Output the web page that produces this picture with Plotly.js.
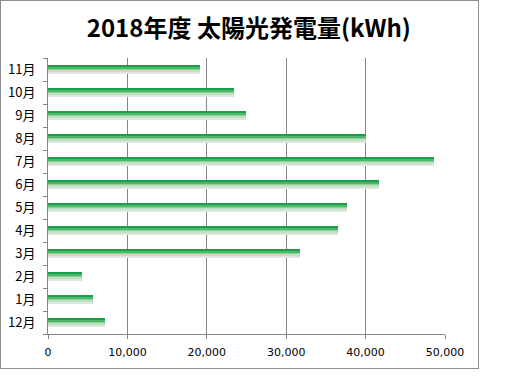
<!DOCTYPE html>
<html>
<head>
<meta charset="utf-8">
<script src="https://cdn.plot.ly/plotly-3.0.1.min.js"></script>
<style>
html,body{margin:0;padding:0;background:#fff;}
#frame{position:absolute;left:0;top:0;width:477px;height:367px;border:1px solid #8c8c8c;}
#chart{position:absolute;left:0;top:0;width:512px;height:384px;}
</style>
</head>
<body>
<div id="frame"></div>
<div id="chart"></div>
<script>
const months = ['12月','1月','2月','3月','4月','5月','6月','7月','8月','9月','10月','11月'];
const kwh = [7200, 5700, 4300, 31700, 36500, 37700, 41700, 48600, 40100, 24900, 23400, 19200];
const xTicks = [0, 10000, 20000, 30000, 40000, 50000];
const xTickText = ['0','10,000','20,000','30,000','40,000','50,000'];

const stripeColors = ['#1c9f49','#4db86b','#8ccf97','#bfe0c2','#dde7de'];
const stripeW = 0.08;
const traces = stripeColors.map((c, i) => ({
  type: 'bar',
  orientation: 'h',
  y: months,
  x: kwh,
  width: stripeW,
  offset: 0.2 - stripeW * (i + 1),
  marker: {color: c, line: {width: 0}},
  hoverinfo: 'x+y',
  showlegend: false
}));

const layout = {
  width: 512, height: 384,
  paper_bgcolor: 'rgba(0,0,0,0)',
  plot_bgcolor: 'rgba(0,0,0,0)',
  margin: {l: 48, r: 67, t: 58, b: 50},
  barmode: 'overlay',
  bargap: 0,
  title: {
    text: '<b>2018年度 太陽光発電量(kWh)</b>',
    font: {family: 'Noto Sans CJK JP', size: 24, color: '#000'},
    x: 0.486, xanchor: 'center', y: 0.925, yanchor: 'middle', xref: 'container', yref: 'container'
  },
  xaxis: {
    range: [0, 50000],
    tickvals: xTicks, ticktext: xTickText,
    showgrid: true, gridcolor: '#868686', gridwidth: 1,
    zeroline: false,
    showline: true, linecolor: '#868686', linewidth: 1,
    ticks: 'outside', ticklen: 4, tickcolor: '#868686',
    ticklabelstandoff: 4,
    tickfont: {family: 'DejaVu Sans', size: 11, color: '#000'},
    fixedrange: true
  },
  yaxis: {
    type: 'category',
    categoryorder: 'array', categoryarray: months,
    range: [-0.5, 11.5],
    showgrid: false,
    showline: true, linecolor: '#868686', linewidth: 1,
    ticks: 'outside', ticklen: 4, tickcolor: '#868686',
    tickson: 'boundaries',
    ticklabelstandoff: 9,
    tickfont: {family: 'Noto Sans CJK JP', size: 13, color: '#000'},
    fixedrange: true
  }
};

Plotly.newPlot('chart', traces, layout, {displayModeBar: false, staticPlot: true});
</script>
</body>
</html>
